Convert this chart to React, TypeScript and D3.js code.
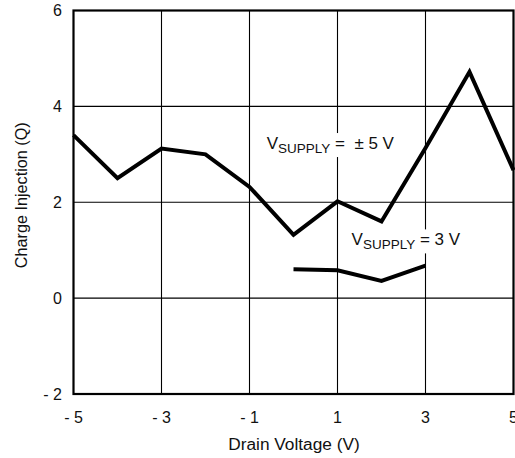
import { useLayoutEffect, useRef, useState } from "react";
import * as d3 from "d3";

const WIDTH = 515;
const HEIGHT = 458;
const MARGIN = { top: 10.5, right: 1.5, bottom: 64, left: 73.5 };
const FONT = "'Liberation Sans', Arial, Helvetica, sans-serif";

const X_TICKS = [-5, -3, -1, 1, 3, 5];
const Y_TICKS = [-2, 0, 2, 4, 6];

const DUAL_X = [-5, -4, -3, -2, -1, 0, 1, 2, 3, 4, 5];
const DUAL_Q = [3.4, 2.5, 3.12, 3.0, 2.32, 1.32, 2.02, 1.6, 3.13, 4.72, 2.67];

const SINGLE_X = [0, 1, 2, 3];
const SINGLE_Q = [0.6, 0.58, 0.36, 0.68];

const LABELS = [
  { x: -0.61, y: 3.11, value: "\u00a0± 5 V" },
  { x: 1.32, y: 1.1, value: "3 V" },
];

const fmt = (v: number) => (v < 0 ? `- ${Math.abs(v)}` : `${v}`);

const SupplyLabel = ({ x, y, value }: { x: number; y: number; value: string }) => {
  const ref = useRef<SVGTextElement>(null);
  const [box, setBox] = useState<DOMRect | null>(null);

  useLayoutEffect(() => {
    if (ref.current) setBox(ref.current.getBBox());
  }, [x, y, value]);

  return (
    <g>
      {box && (
        <rect
          x={box.x - 2}
          y={box.y - 1}
          width={box.width + 4}
          height={box.height + 2}
          fill="white"
        />
      )}
      <text ref={ref} x={x} y={y} fontSize={17} fill="#111">
        V
        <tspan fontSize={13.5} dy={4}>
          SUPPLY
        </tspan>
        <tspan dy={-4}>{` = ${value}`}</tspan>
      </text>
    </g>
  );
};

export default function App() {
  const boundsWidth = WIDTH - MARGIN.left - MARGIN.right;
  const boundsHeight = HEIGHT - MARGIN.top - MARGIN.bottom;

  const xScale = d3.scaleLinear().domain([-5, 5]).range([0, boundsWidth]);
  const yScale = d3.scaleLinear().domain([-2, 6]).range([boundsHeight, 0]);

  const line = d3
    .line<[number, number]>()
    .x((d) => xScale(d[0]))
    .y((d) => yScale(d[1]));

  const dualPath = line(DUAL_X.map((x, i) => [x, DUAL_Q[i]]));
  const singlePath = line(SINGLE_X.map((x, i) => [x, SINGLE_Q[i]]));

  const innerX = X_TICKS.filter((t) => t !== -5 && t !== 5);
  const innerY = Y_TICKS.filter((t) => t !== -2 && t !== 6);

  return (
    <svg
      width={WIDTH}
      height={HEIGHT}
      style={{ position: "absolute", left: 0, top: 0, background: "white" }}
      fontFamily={FONT}
    >
      <g transform={`translate(${MARGIN.left},${MARGIN.top})`}>
        {/* grid */}
        {innerX.map((t) => (
          <line
            key={`gx${t}`}
            x1={xScale(t)}
            x2={xScale(t)}
            y1={0}
            y2={boundsHeight}
            stroke="#000"
            strokeWidth={1.1}
          />
        ))}
        {innerY.map((t) => (
          <line
            key={`gy${t}`}
            x1={0}
            x2={boundsWidth}
            y1={yScale(t)}
            y2={yScale(t)}
            stroke="#000"
            strokeWidth={1.1}
          />
        ))}

        {LABELS.map((l) => (
          <SupplyLabel key={l.value} x={xScale(l.x)} y={yScale(l.y)} value={l.value} />
        ))}

        {/* series */}
        <path d={dualPath ?? ""} fill="none" stroke="#000" strokeWidth={4} strokeLinejoin="miter" />
        <path d={singlePath ?? ""} fill="none" stroke="#000" strokeWidth={4} strokeLinejoin="miter" />

        {/* frame */}
        <rect
          x={0}
          y={0}
          width={boundsWidth}
          height={boundsHeight}
          fill="none"
          stroke="#000"
          strokeWidth={2.2}
        />

        {/* y ticks */}
        {Y_TICKS.map((t) => (
          <text
            key={`yl${t}`}
            x={-11.5}
            y={yScale(t)}
            textAnchor="end"
            dominantBaseline="central"
            fontSize={16}
            fill="#111"
          >
            {fmt(t)}
          </text>
        ))}

        {/* x ticks */}
        {X_TICKS.map((t) => (
          <text
            key={`xl${t}`}
            x={xScale(t)}
            y={boundsHeight + 29}
            textAnchor="middle"
            fontSize={16}
            fill="#111"
          >
            {fmt(t)}
          </text>
        ))}

        <text
          x={xScale(0) + 0.5}
          y={boundsHeight + 56}
          textAnchor="middle"
          fontSize={17.3}
          fill="#111"
        >
          Drain Voltage (V)
        </text>

        <text
          transform={`translate(${-MARGIN.left + 26.5},${yScale(2) - 7}) rotate(-90)`}
          textAnchor="middle"
          fontSize={16.2}
          fill="#111"
        >
          Charge Injection (Q)
        </text>
      </g>
    </svg>
  );
}
